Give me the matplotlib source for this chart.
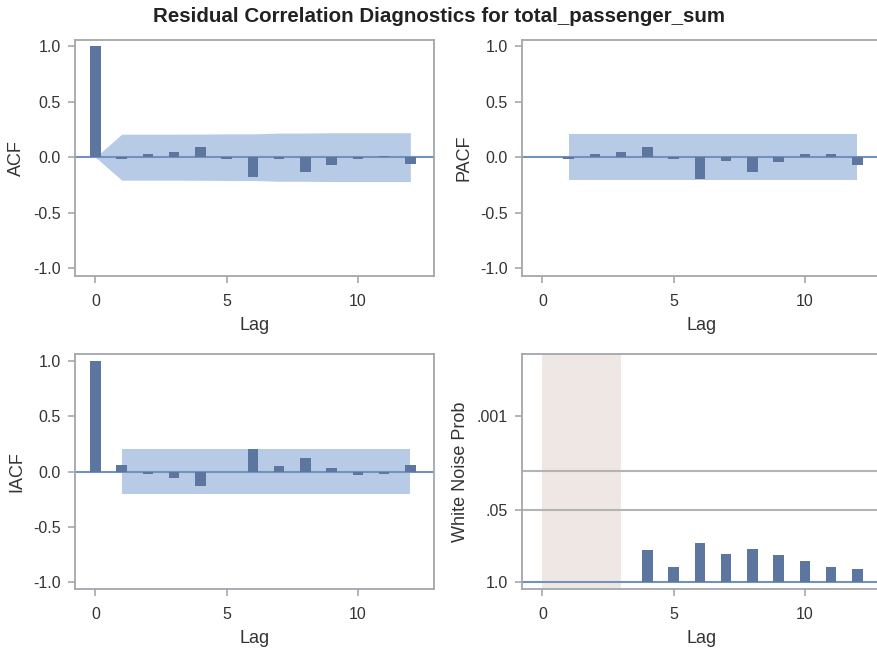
import matplotlib
matplotlib.use("Agg")
import matplotlib.pyplot as plt
import numpy as np

plt.rcParams['font.family'] = ['Liberation Sans', 'DejaVu Sans']

lags = list(range(13))

acf = [1.0, -0.015, 0.027, 0.045, 0.096, -0.015, -0.183, -0.015, -0.135, -0.069, -0.015, 0.012, -0.063]
acf_band = [0.0, 0.207, 0.207, 0.207, 0.208, 0.210, 0.210, 0.217, 0.217, 0.220, 0.220, 0.220, 0.220]

pacf_lags = list(range(1, 13))
pacf = [-0.015, 0.027, 0.048, 0.096, -0.018, -0.200, -0.036, -0.138, -0.048, 0.027, 0.030, -0.069]
pacf_band = 0.207

iacf = [1.0, 0.057, -0.024, -0.063, -0.129, -0.009, 0.200, 0.048, 0.120, 0.036, -0.033, -0.024, 0.060]
iacf_band = 0.207

wn_lags = list(range(4, 13))
wn_prob = [0.265, 0.537, 0.193, 0.309, 0.248, 0.318, 0.419, 0.530, 0.583]
wn_refs = [0.05, 0.01]
wn_ticks = [1.0, 0.05, 0.001]
wn_ticklabels = ['1.0', '.05', '.001']

bar_c = '#5c76a0'
band_c = '#b8cbe6'
zero_c = '#7391bd'
frame_c = '#a3a7ab'
txt_c = '#333333'

fig = plt.figure(figsize=(8.78, 6.51), dpi=100)
W, H = 878, 651


def box(l, t, r, b):
    return [l / W, 1 - b / H, (r - l) / W, (b - t) / H]


ax1 = fig.add_axes(box(75, 40, 434, 276))
ax2 = fig.add_axes(box(522, 40, 881, 276))
ax3 = fig.add_axes(box(75, 354, 434, 589))
ax4 = fig.add_axes(box(522, 354, 881, 589))


def style(ax, ylabel):
    for s in ax.spines.values():
        s.set_color(frame_c)
        s.set_linewidth(1.3)
    ax.tick_params(colors=frame_c, labelcolor=txt_c, labelsize=11.5, length=5, width=1.2)
    ax.tick_params(axis='x', pad=8)
    ax.tick_params(axis='y', pad=5)
    ax.set_xlim(-0.78, 12.9)
    ax.set_xticks([0, 5, 10])
    ax.set_xlabel('Lag', fontsize=13, color=txt_c, labelpad=6)
    ax.set_ylabel(ylabel, fontsize=13, color=txt_c, labelpad=6)


def nlog(p):
    return -np.log10(np.asarray(p, dtype=float))


# ACF
ax1.fill_between(lags, acf_band, [-v for v in acf_band], color=band_c, lw=0)
ax1.axhline(0, color=zero_c, lw=1.5)
ax1.bar(lags, acf, width=0.4, color=bar_c, zorder=3)
ax1.set_ylim(-1.07, 1.055)
ax1.set_yticks([-1, -0.5, 0, 0.5, 1])
ax1.set_yticklabels(['-1.0', '-0.5', '0.0', '0.5', '1.0'])
style(ax1, 'ACF')

# PACF
ax2.fill_between([1, 12], pacf_band, -pacf_band, color=band_c, lw=0)
ax2.axhline(0, color=zero_c, lw=1.5)
ax2.bar(pacf_lags, pacf, width=0.4, color=bar_c, zorder=3)
ax2.set_ylim(-1.07, 1.055)
ax2.set_yticks([-1, -0.5, 0, 0.5, 1])
ax2.set_yticklabels(['-1.0', '-0.5', '0.0', '0.5', '1.0'])
style(ax2, 'PACF')

# IACF
ax3.fill_between([1, 12], iacf_band, -iacf_band, color=band_c, lw=0)
ax3.axhline(0, color=zero_c, lw=1.5)
ax3.bar(lags, iacf, width=0.4, color=bar_c, zorder=3)
ax3.set_ylim(-1.06, 1.06)
ax3.set_yticks([-1, -0.5, 0, 0.5, 1])
ax3.set_yticklabels(['-1.0', '-0.5', '0.0', '0.5', '1.0'])
style(ax3, 'IACF')

# White noise probabilities, drawn on a -log10(p) axis
ax4.axvspan(0, 3, color='#efe7e3', lw=0)
for r in wn_refs:
    ax4.axhline(nlog(r), color='#b4b4b4', lw=1.5)
ax4.axhline(0, color=zero_c, lw=1.5)
ax4.bar(wn_lags, nlog(wn_prob), width=0.4, color=bar_c, zorder=3)
ax4.set_ylim(-0.12, 4.11)
ax4.set_yticks(nlog(wn_ticks))
ax4.set_yticklabels(wn_ticklabels)
style(ax4, 'White Noise Prob')

fig.text(0.5, 1 - 16 / H, 'Residual Correlation Diagnostics for total_passenger_sum',
         ha='center', va='center', fontsize=14.8, fontweight='bold', color='#222222')

fig.savefig('out.png', dpi=100)
